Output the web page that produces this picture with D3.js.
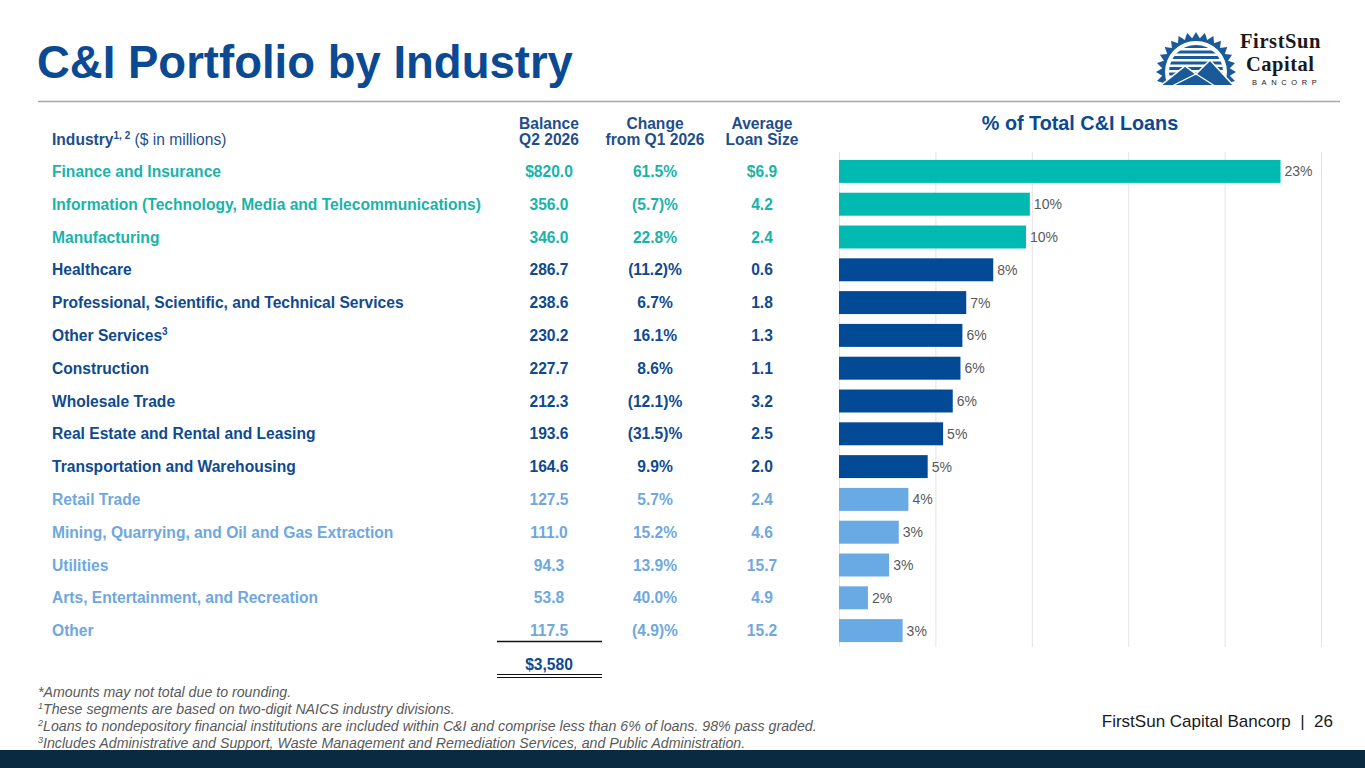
<!DOCTYPE html>
<html>
<head>
<meta charset="utf-8">
<script src="https://cdn.jsdelivr.net/npm/d3@7"></script>
<style>
  body { margin: 0; background: #fff; }
  svg { display: block; font-family: "Liberation Sans", Arial, sans-serif; }
</style>
</head>
<body>
<svg id="chart" width="1365" height="768"></svg>
<script>
// data
const industries = [
  "Finance and Insurance",
  "Information (Technology, Media and Telecommunications)",
  "Manufacturing",
  "Healthcare",
  "Professional, Scientific, and Technical Services",
  "Other Services",
  "Construction",
  "Wholesale Trade",
  "Real Estate and Rental and Leasing",
  "Transportation and Warehousing",
  "Retail Trade",
  "Mining, Quarrying, and Oil and Gas Extraction",
  "Utilities",
  "Arts, Entertainment, and Recreation",
  "Other"
];
const industryNotes = ["", "", "", "", "", "3", "", "", "", "", "", "", "", "", ""];
const balances = [820.0, 356.0, 346.0, 286.7, 238.6, 230.2, 227.7, 212.3, 193.6, 164.6, 127.5, 111.0, 94.3, 53.8, 117.5];
const changes = [61.5, -5.7, 22.8, -11.2, 6.7, 16.1, 8.6, -12.1, -31.5, 9.9, 5.7, 15.2, 13.9, 40.0, -4.9];
const avgLoanSize = [6.9, 4.2, 2.4, 0.6, 1.8, 1.3, 1.1, 3.2, 2.5, 2.0, 2.4, 4.6, 15.7, 4.9, 15.2];
const pctOfTotal = [22.9, 9.9, 9.7, 8.0, 6.6, 6.4, 6.3, 5.9, 5.4, 4.6, 3.6, 3.1, 2.6, 1.5, 3.3];
const pctLabels = ["23%", "10%", "10%", "8%", "7%", "6%", "6%", "6%", "5%", "5%", "4%", "3%", "3%", "2%", "3%"];
const tiers = ["top", "top", "top", "mid", "mid", "mid", "mid", "mid", "mid", "mid", "low", "low", "low", "low", "low"];
const totalBalance = "$3,580";
const xTicks = [0, 5, 10, 15, 20, 25];

const footnotes = [
  ["", "*Amounts may not total due to rounding."],
  ["1", "These segments are based on two-digit NAICS industry divisions."],
  ["2", "Loans to nondepository financial institutions are included within C&I and comprise less than 6% of loans. 98% pass graded."],
  ["3", "Includes Administrative and Support, Waste Management and Remediation Services, and Public Administration."]
];

const barColor = { top: "#00bab2", mid: "#034a96", low: "#69a9e4" };
const textColor = { top: "#19b3aa", mid: "#0f4a8f", low: "#6fa8de" };
const navy = "#0b4a93";
const fs = 15.6;

const svg = d3.select("#chart");

// title + rule
svg.append("text")
  .attr("x", 37).attr("y", 78)
  .attr("font-size", 45.5).attr("font-weight", "bold")
  .attr("fill", navy)
  .text("C&I Portfolio by Industry");

svg.append("line")
  .attr("x1", 38).attr("x2", 1340)
  .attr("y1", 101.5).attr("y2", 101.5)
  .attr("stroke", "#a9a9a9").attr("stroke-width", 1.5);

// logo
const logo = svg.append("g");
const cx = 1196, cy = 72;
const defs = svg.append("defs");
defs.append("clipPath").attr("id", "logoClip")
  .append("rect").attr("x", 1150).attr("y", 20).attr("width", 100).attr("height", 65);
defs.append("clipPath").attr("id", "diskClip")
  .append("circle").attr("cx", cx).attr("cy", cy).attr("r", 27);

const rays = d3.range(56).map(i => {
  const a = Math.PI * i / 28;
  const r = i % 2 === 0 ? 40 : 34;
  return [cx + r * Math.cos(a), cy + r * Math.sin(a)];
});
const lg = logo.append("g").attr("clip-path", "url(#logoClip)");
lg.append("polygon").attr("points", rays.map(p => p.join(",")).join(" ")).attr("fill", "#1b5a99");
lg.append("circle").attr("cx", cx).attr("cy", cy).attr("r", 31).attr("fill", "#fff");
const disk = lg.append("g").attr("clip-path", "url(#diskClip)");
d3.range(8).forEach(i => {
  disk.append("rect").attr("x", cx - 30).attr("y", cy - 27 + i * 5.5)
    .attr("width", 60).attr("height", 3).attr("fill", "#1b5a99");
});
lg.append("polygon")
  .attr("points", [[1160, 86], [1185, 66], [1196, 74], [1210, 60], [1234, 86]].map(p => p.join(",")).join(" "))
  .attr("fill", "#1b5a99").attr("stroke", "#fff").attr("stroke-width", 1.5);
lg.append("polyline")
  .attr("points", [[1172, 86], [1196, 74], [1215, 86]].map(p => p.join(",")).join(" "))
  .attr("fill", "none").attr("stroke", "#fff").attr("stroke-width", 1.2);

logo.append("text").attr("x", 1240).attr("y", 48)
  .attr("font-family", "'Liberation Serif', 'DejaVu Serif', serif")
  .attr("font-size", 20.5).attr("letter-spacing", 0.6).attr("font-weight", "bold").attr("fill", "#1a1a1a")
  .text("FirstSun");
logo.append("text").attr("x", 1246).attr("y", 71)
  .attr("font-family", "'Liberation Serif', 'DejaVu Serif', serif")
  .attr("font-size", 20.5).attr("letter-spacing", 0.5).attr("font-weight", "bold").attr("fill", "#1a1a1a")
  .text("Capital");
logo.append("text").attr("x", 1252).attr("y", 85)
  .attr("font-size", 7.5).attr("letter-spacing", 4.6).attr("fill", "#1a1a1a")
  .text("BANCORP");

// scales
const y = d3.scaleBand()
  .domain(industries)
  .range([155, 647])
  .paddingInner(0.3)
  .paddingOuter(0.15);

const x = d3.scaleLinear()
  .domain([0, 25])
  .range([839, 1321]);

const rowY = i => y(industries[i]) + y.bandwidth() / 2;

// table header
const colX = { balance: 549, change: 655, avg: 762 };
const header = svg.append("g")
  .attr("fill", "#1f4e8c").attr("font-size", fs).attr("font-weight", "bold")
  .attr("text-anchor", "middle");
[["balance", "Balance", "Q2 2026"], ["change", "Change", "from Q1 2026"], ["avg", "Average", "Loan Size"]]
  .forEach(([k, l1, l2]) => {
    header.append("text").attr("x", colX[k]).attr("y", 129).text(l1);
    header.append("text").attr("x", colX[k]).attr("y", 145).text(l2);
  });

const ind = svg.append("text")
  .attr("x", 52).attr("y", 145)
  .attr("fill", "#1f4e8c").attr("font-size", fs);
ind.append("tspan").attr("font-weight", "bold").text("Industry");
ind.append("tspan").attr("font-size", 10).attr("font-weight", "bold").attr("dy", -6).text("1, 2");
ind.append("tspan").attr("dy", 6).text(" ($ in millions)");

// table rows
const fmtChange = v => v < 0 ? `(${Math.abs(v).toFixed(1)})%` : `${v.toFixed(1)}%`;
const rows = svg.append("g").attr("font-size", fs).attr("font-weight", "bold");

industries.forEach((name, i) => {
  const g = rows.append("g").attr("fill", textColor[tiers[i]]);
  const yy = rowY(i) + 5.5;
  const t = g.append("text").attr("x", 52).attr("y", yy).text(name);
  if (industryNotes[i]) {
    t.append("tspan").attr("font-size", 10).attr("dy", -6).text(industryNotes[i]);
  }
  g.append("text").attr("x", colX.balance).attr("y", yy).attr("text-anchor", "middle")
    .text((i === 0 ? "$" : "") + balances[i].toFixed(1));
  g.append("text").attr("x", colX.change).attr("y", yy).attr("text-anchor", "middle")
    .text(fmtChange(changes[i]));
  g.append("text").attr("x", colX.avg).attr("y", yy).attr("text-anchor", "middle")
    .text((i === 0 ? "$" : "") + avgLoanSize[i].toFixed(1));
});

// total
svg.append("line").attr("x1", 497).attr("x2", 602).attr("y1", 641.5).attr("y2", 641.5)
  .attr("stroke", "#111").attr("stroke-width", 1.5);
svg.append("text").attr("x", colX.balance).attr("y", 670)
  .attr("text-anchor", "middle").attr("font-size", fs).attr("font-weight", "bold")
  .attr("fill", "#0f4a8f").text(totalBalance);
[674.5, 677.5].forEach(v => {
  svg.append("line").attr("x1", 497).attr("x2", 602).attr("y1", v).attr("y2", v)
    .attr("stroke", "#111").attr("stroke-width", 1.2);
});

// bar chart
svg.append("text")
  .attr("x", 1080).attr("y", 130)
  .attr("text-anchor", "middle").attr("font-size", 19.8).attr("font-weight", "bold")
  .attr("fill", navy).text("% of Total C&I Loans");

svg.append("g")
  .selectAll("line")
  .data(xTicks)
  .join("line")
  .attr("x1", d => x(d) + 0.5).attr("x2", d => x(d) + 0.5)
  .attr("y1", 152).attr("y2", 647)
  .attr("stroke", "#e3e3e3").attr("stroke-width", 1);

svg.append("g")
  .selectAll("rect")
  .data(industries)
  .join("rect")
  .attr("x", x(0))
  .attr("y", d => y(d))
  .attr("width", (d, i) => x(pctOfTotal[i]) - x(0))
  .attr("height", y.bandwidth())
  .attr("fill", (d, i) => barColor[tiers[i]]);

svg.append("g")
  .selectAll("text")
  .data(industries)
  .join("text")
  .attr("x", (d, i) => x(pctOfTotal[i]) + 4)
  .attr("y", (d, i) => rowY(i) + 5)
  .attr("font-size", 14).attr("fill", "#595959")
  .text((d, i) => pctLabels[i]);

// footnotes
const fn = svg.append("g")
  .attr("font-family", "'Liberation Sans Narrow', 'Arial Narrow', 'Liberation Sans', sans-serif")
  .attr("font-size", 14.2).attr("font-style", "italic").attr("fill", "#595959");
footnotes.forEach(([sup, txt], i) => {
  const t = fn.append("text").attr("x", 38).attr("y", 697 + i * 17);
  if (sup) t.append("tspan").attr("font-size", 9).attr("dy", -5).text(sup);
  t.append("tspan").attr("dy", sup ? 5 : 0).text(txt);
});

svg.append("text")
  .attr("x", 1333).attr("y", 727)
  .attr("text-anchor", "end").attr("font-size", 17).attr("fill", "#1a1a1a")
  .attr("xml:space", "preserve")
  .text("FirstSun Capital Bancorp  |  26");

svg.append("rect")
  .attr("x", 0).attr("y", 750).attr("width", 1365).attr("height", 18)
  .attr("fill", "#0a2a42");
</script>
</body>
</html>
